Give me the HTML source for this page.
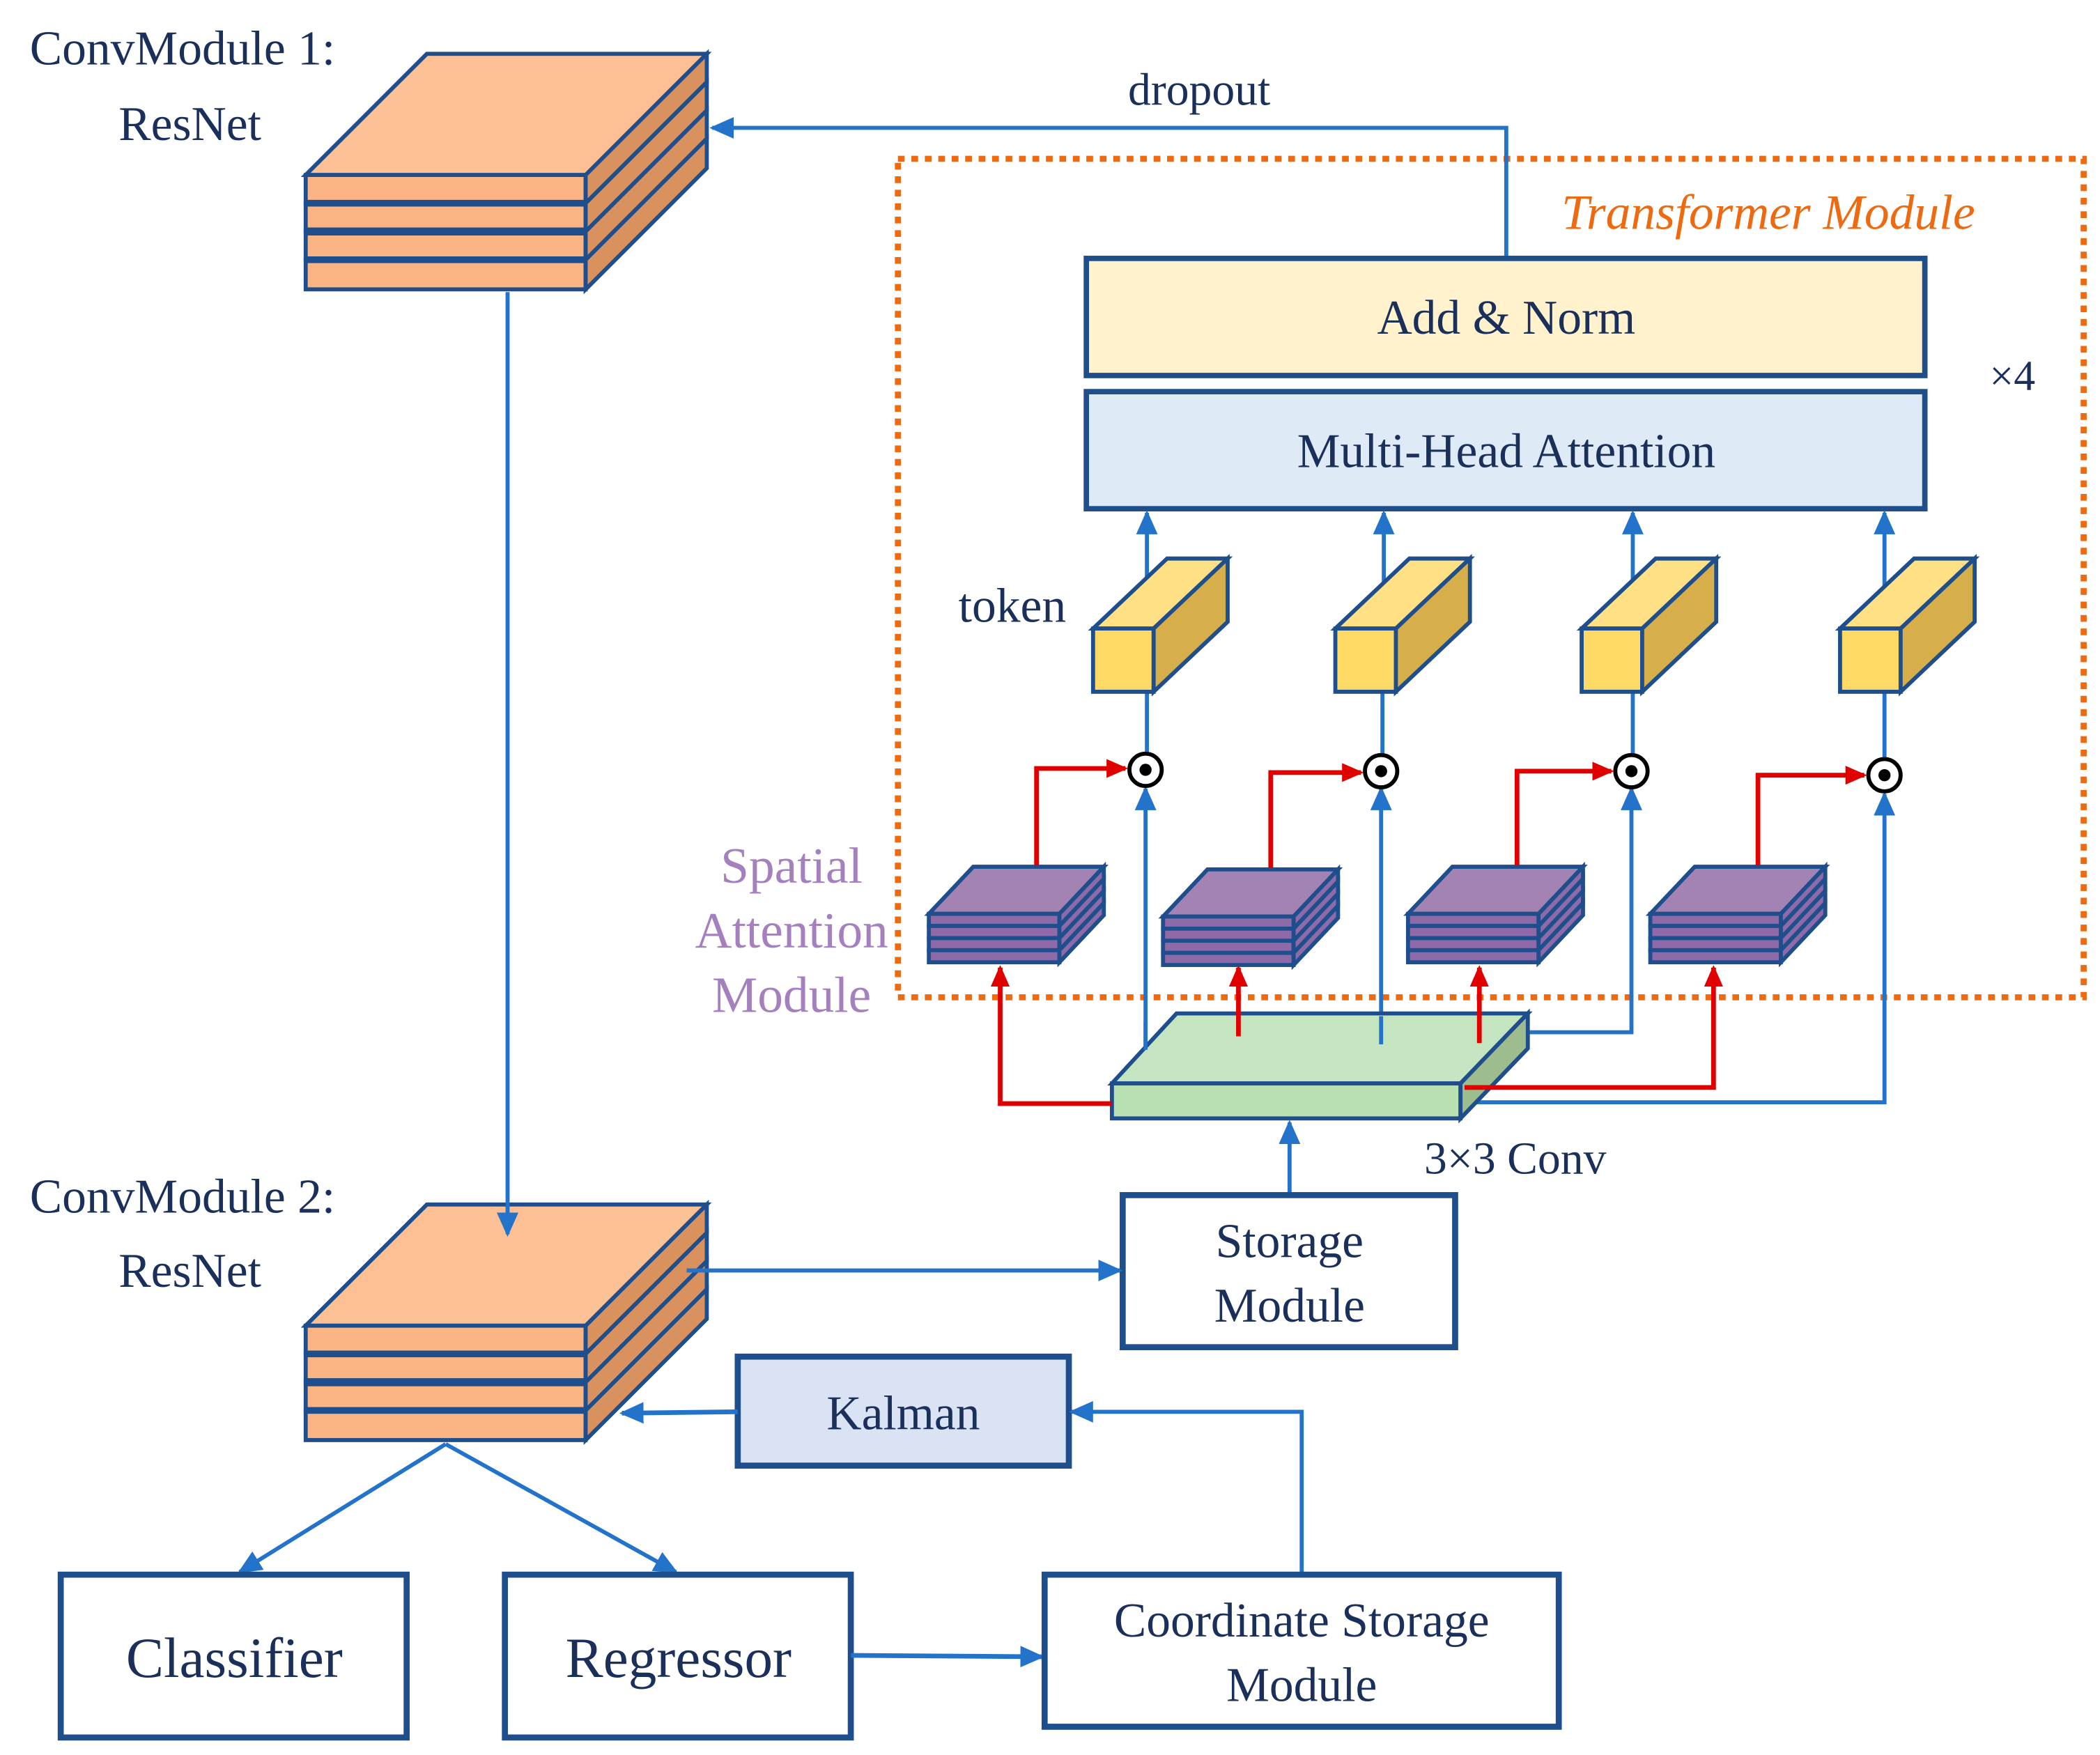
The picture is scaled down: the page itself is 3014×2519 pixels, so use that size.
<!DOCTYPE html>
<html><head><meta charset="utf-8"><style>
html,body{margin:0;padding:0;background:#fff;width:3014px;height:2519px;overflow:hidden}
svg{display:block}
text{font-family:"Liberation Serif","Times New Roman",serif;fill:#1a2f5a}
</style></head><body>
<svg width="3014" height="2519" viewBox="0 0 1560 1304" xmlns="http://www.w3.org/2000/svg" font-family="Liberation Serif, serif">
<defs>
<marker id="abb" markerWidth="18" markerHeight="16" refX="16" refY="8" orient="auto" markerUnits="userSpaceOnUse" viewBox="0 0 18 16"><path d="M0,0 L18,8 L0,16 z" fill="#2273c9"/></marker>
<marker id="ar" markerWidth="16" markerHeight="14" refX="14" refY="7" orient="auto" markerUnits="userSpaceOnUse" viewBox="0 0 16 14"><path d="M0,0 L16,7 L0,14 z" fill="#e00000"/></marker>
<g id="conv" stroke="#1f4e8c" stroke-width="3" stroke-linejoin="miter">
 <polygon points="0,0 208,0 298,-90 90,-90" fill="#fdbf94"/>
 <rect x="0" y="0" width="208" height="21" fill="#fbb584"/>
 <rect x="0" y="21" width="208" height="21" fill="#fbb584"/>
 <rect x="0" y="42" width="208" height="21" fill="#fbb584"/>
 <rect x="0" y="63" width="208" height="22" fill="#fbb584"/>
 <polygon points="208,0 298,-90 298,-69 208,21" fill="#d9925e"/>
 <polygon points="208,21 298,-69 298,-48 208,42" fill="#d9925e"/>
 <polygon points="208,42 298,-48 298,-27 208,63" fill="#d9925e"/>
 <polygon points="208,63 298,-27 298,-5 208,85" fill="#d9925e"/>
 <line x1="0" y1="21" x2="208" y2="21" stroke-width="5"/>
 <line x1="0" y1="42" x2="208" y2="42" stroke-width="6"/>
 <line x1="0" y1="63" x2="208" y2="63" stroke-width="5"/>
</g>
<g id="purp" stroke="#1f4e8c" stroke-width="3" stroke-linejoin="miter">
 <polygon points="0,0 97,0 130,-35 33,-35" fill="#a383b3"/>
 <rect x="0" y="0" width="97" height="9" fill="#8e6aa8"/>
 <rect x="0" y="9" width="97" height="9" fill="#8e6aa8"/>
 <rect x="0" y="18" width="97" height="9" fill="#8e6aa8"/>
 <rect x="0" y="27" width="97" height="9" fill="#8e6aa8"/>
 <polygon points="97,0 130,-35 130,-26 97,9" fill="#8e6aa8"/>
 <polygon points="97,9 130,-26 130,-17 97,18" fill="#8e6aa8"/>
 <polygon points="97,18 130,-17 130,-8 97,27" fill="#8e6aa8"/>
 <polygon points="97,27 130,-8 130,1 97,36" fill="#8e6aa8"/>
</g>
<g id="tok" stroke="#1f4e8c" stroke-width="3" stroke-linejoin="miter">
 <polygon points="0,0 45,0 100,-52 55,-52" fill="#ffe085"/>
 <rect x="0" y="0" width="45" height="47" fill="#ffd966"/>
 <polygon points="45,0 100,-52 100,-5 45,47" fill="#d6ae4a"/>
</g>
</defs>

<text x="22" y="48" font-size="36" font-family="Liberation Serif, serif">ConvModule 1:</text>
<text x="88" y="104" font-size="36" font-family="Liberation Serif, serif">ResNet</text>
<text x="22" y="901" font-size="36" font-family="Liberation Serif, serif">ConvModule 2:</text>
<text x="88" y="956" font-size="36" font-family="Liberation Serif, serif">ResNet</text>

<rect x="667" y="118" width="881" height="623" fill="none" stroke="#ed6a10" stroke-width="4.5" stroke-dasharray="5,5"/>
<text x="1160" y="170" font-size="37" font-style="italic" font-family="Liberation Serif, serif" style="fill:#ed6a10">Transformer Module</text>
<text x="1478" y="290" font-size="32" font-family="Liberation Serif, serif">×4</text>

<text x="838" y="78" font-size="34" font-family="Liberation Serif, serif">dropout</text>
<polyline points="1119,192 1119,95 529,95" fill="none" stroke="#2273c9" stroke-width="3" marker-end="url(#abb)"/>

<rect x="807" y="192" width="623" height="87" fill="#fff2cc" stroke="#1f4e8c" stroke-width="4"/>
<text x="1119" y="248" font-size="36" text-anchor="middle" font-family="Liberation Serif, serif">Add &amp; Norm</text>
<rect x="807" y="291" width="623" height="87" fill="#deebf7" stroke="#1f4e8c" stroke-width="4"/>
<text x="1119" y="347" font-size="36" text-anchor="middle" font-family="Liberation Serif, serif">Multi-Head Attention</text>

<use href="#conv" x="227" y="130"/>
<use href="#conv" x="227" y="985"/>
<line x1="377" y1="217" x2="377" y2="917" stroke="#2273c9" stroke-width="3" marker-end="url(#abb)"/>

<text x="712" y="462" font-size="36" font-family="Liberation Serif, serif">token</text>

<g stroke="#2273c9" stroke-width="3" fill="none">
 <line x1="852" y1="445" x2="852" y2="381" marker-end="url(#abb)"/>
 <line x1="1028" y1="445" x2="1028" y2="381" marker-end="url(#abb)"/>
 <line x1="1213" y1="445" x2="1213" y2="381" marker-end="url(#abb)"/>
 <line x1="1400" y1="445" x2="1400" y2="381" marker-end="url(#abb)"/>
 <line x1="852" y1="514" x2="852" y2="560"/>
 <line x1="1027" y1="514" x2="1027" y2="560"/>
 <line x1="1213" y1="514" x2="1213" y2="560"/>
 <line x1="1400" y1="514" x2="1400" y2="564"/>
 <line x1="851" y1="780" x2="851" y2="586" marker-end="url(#abb)"/>
 <line x1="1026" y1="776" x2="1026" y2="586" marker-end="url(#abb)"/>
 <polyline points="1135,767 1212,767 1212,586" marker-end="url(#abb)"/>
 <polyline points="1085,819 1400,819 1400,590" marker-end="url(#abb)"/>
</g>

<use href="#tok" x="812" y="467"/>
<use href="#tok" x="992" y="467"/>
<use href="#tok" x="1175" y="467"/>
<use href="#tok" x="1367" y="467"/>

<use href="#purp" x="690" y="679"/>
<use href="#purp" x="864" y="681"/>
<use href="#purp" x="1046" y="679"/>
<use href="#purp" x="1226" y="679"/>

<g stroke="#e00000" stroke-width="3.5" fill="none">
 <polyline points="770,643 770,571 836,571" marker-end="url(#ar)"/>
 <polyline points="944,645 944,574 1011,574" marker-end="url(#ar)"/>
 <polyline points="1127,643 1127,573 1197,573" marker-end="url(#ar)"/>
 <polyline points="1306,643 1306,576 1385,576" marker-end="url(#ar)"/>
</g>

<g stroke="#000" stroke-width="3" fill="#fff">
 <circle cx="851" cy="572" r="12"/><circle cx="1026" cy="573" r="12"/>
 <circle cx="1212" cy="573" r="12"/><circle cx="1400" cy="576" r="12"/>
</g>
<g fill="#000">
 <circle cx="851" cy="572" r="4.5"/><circle cx="1026" cy="573" r="4.5"/>
 <circle cx="1212" cy="573" r="4.5"/><circle cx="1400" cy="576" r="4.5"/>
</g>

<g stroke="#1f4e8c" stroke-width="3" stroke-linejoin="miter">
 <polygon points="826,805 1085,805 1135,753 874,753" fill="#c5e4c0"/>
 <rect x="826" y="805" width="259" height="26" fill="#b9e0b0"/>
 <polygon points="1085,805 1135,753 1135,779 1085,831" fill="#9dbd8e"/>
</g>
<g stroke="#2273c9" stroke-width="3"><line x1="851" y1="780" x2="851" y2="760"/><line x1="1026" y1="776" x2="1026" y2="755"/></g>
<g stroke="#e00000" stroke-width="3.5" fill="none">
 <polyline points="826,820 743,820 743,719" marker-end="url(#ar)"/>
 <line x1="920" y1="770" x2="920" y2="719" marker-end="url(#ar)"/>
 <line x1="1099" y1="775" x2="1099" y2="719" marker-end="url(#ar)"/>
 <polyline points="1088,808 1273,808 1273,719" marker-end="url(#ar)"/>
</g>
<text x="1058" y="872" font-size="34" font-family="Liberation Serif, serif">3×3 Conv</text>

<g font-size="38" text-anchor="middle" font-family="Liberation Serif, serif">
<text x="588" y="656" style="fill:#a580be">Spatial</text>
<text x="588" y="704" style="fill:#a580be">Attention</text>
<text x="588" y="752" style="fill:#a580be">Module</text>
</g>

<line x1="958" y1="888" x2="958" y2="834" stroke="#2273c9" stroke-width="3" marker-end="url(#abb)"/>
<rect x="834" y="888" width="247" height="113" fill="#fff" stroke="#1f4e8c" stroke-width="4.5"/>
<text x="958" y="934" font-size="36" text-anchor="middle" font-family="Liberation Serif, serif">Storage</text>
<text x="958" y="982" font-size="36" text-anchor="middle" font-family="Liberation Serif, serif">Module</text>
<line x1="510" y1="944" x2="832" y2="944" stroke="#2273c9" stroke-width="3" marker-end="url(#abb)"/>

<rect x="548" y="1008" width="246" height="81" fill="#dae3f3" stroke="#1f4e8c" stroke-width="4.5"/>
<text x="671" y="1062" font-size="36" text-anchor="middle" font-family="Liberation Serif, serif">Kalman</text>
<line x1="548" y1="1049" x2="462" y2="1050" stroke="#2273c9" stroke-width="3.5" marker-end="url(#abb)"/>
<polyline points="967,1170 967,1049 796,1049" fill="none" stroke="#2273c9" stroke-width="3" marker-end="url(#abb)"/>

<line x1="331" y1="1073" x2="178" y2="1168" stroke="#2273c9" stroke-width="3" marker-end="url(#abb)"/>
<line x1="331" y1="1073" x2="502" y2="1168" stroke="#2273c9" stroke-width="3" marker-end="url(#abb)"/>

<rect x="45" y="1170" width="257" height="121" fill="#fff" stroke="#1f4e8c" stroke-width="4.5"/>
<text x="174" y="1246" font-size="42" text-anchor="middle" font-family="Liberation Serif, serif">Classifier</text>
<rect x="375" y="1170" width="257" height="121" fill="#fff" stroke="#1f4e8c" stroke-width="4.5"/>
<text x="504" y="1246" font-size="42" text-anchor="middle" font-family="Liberation Serif, serif">Regressor</text>
<line x1="632" y1="1230" x2="774" y2="1231" stroke="#2273c9" stroke-width="3.5" marker-end="url(#abb)"/>
<rect x="776" y="1170" width="382" height="113" fill="#fff" stroke="#1f4e8c" stroke-width="4.5"/>
<text x="967" y="1216" font-size="36" text-anchor="middle" font-family="Liberation Serif, serif">Coordinate Storage</text>
<text x="967" y="1264" font-size="36" text-anchor="middle" font-family="Liberation Serif, serif">Module</text>
</svg>
</body></html>
